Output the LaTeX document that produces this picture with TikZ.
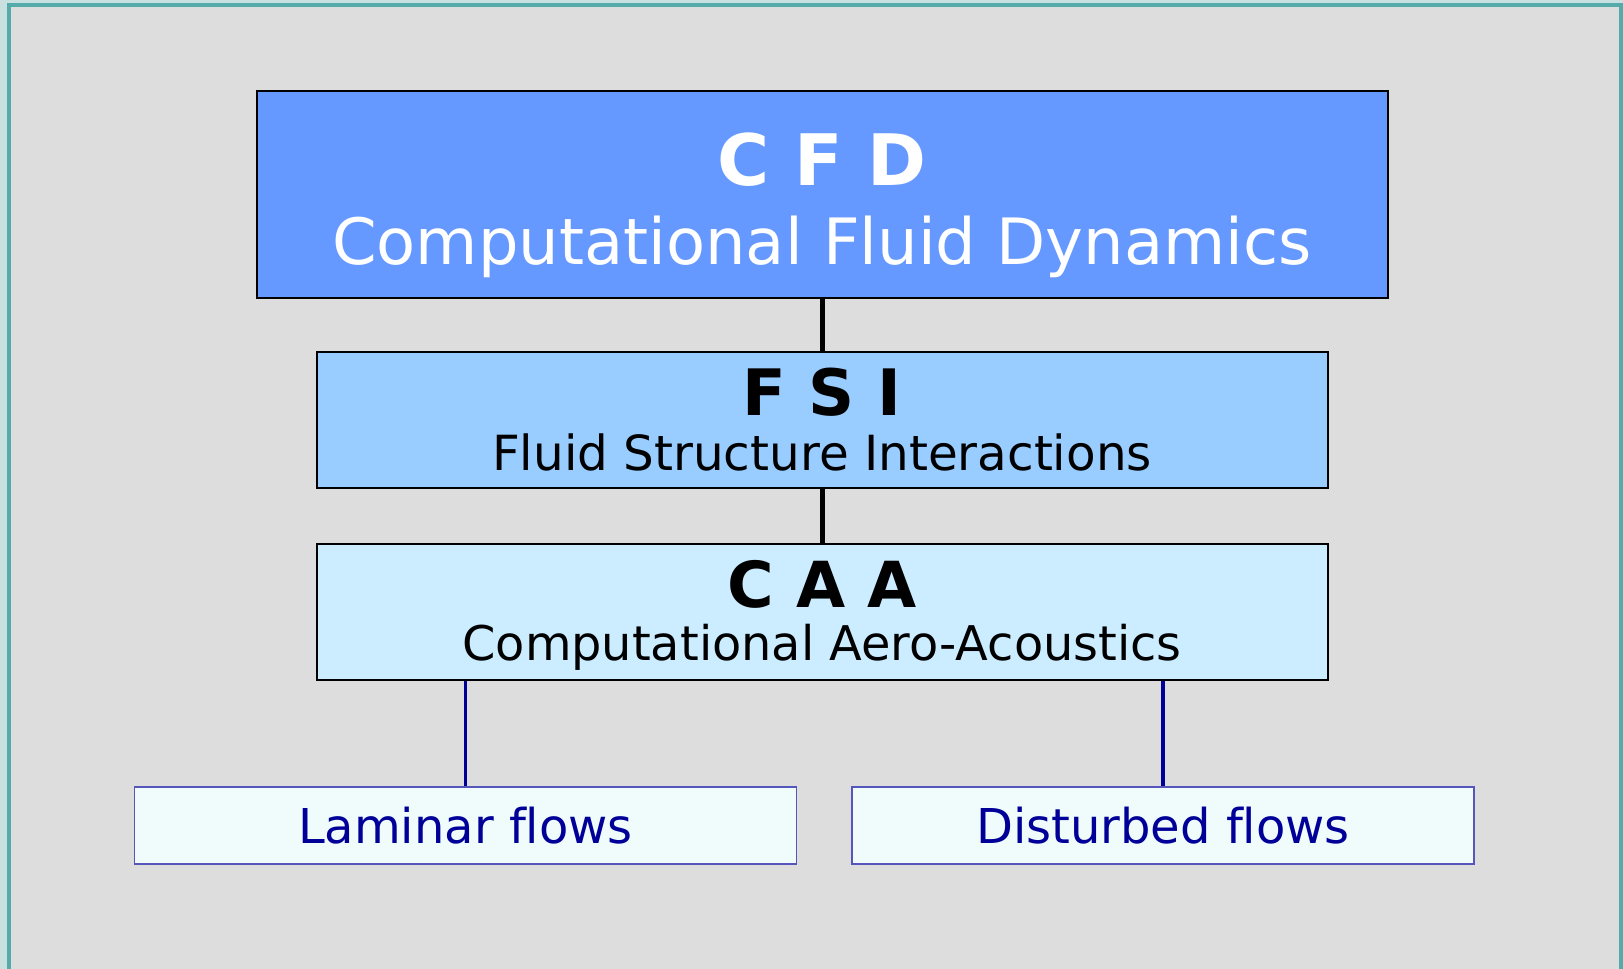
\documentclass[tikz,border=0pt]{standalone}
\usepackage{fontspec}
\setmainfont{DejaVu Sans}[Ligatures=NoCommon]

\definecolor{frameTeal}{HTML}{55AAAA}
\definecolor{frameOut}{HTML}{C8E0DF}
\definecolor{paperGray}{HTML}{DDDDDD}
\definecolor{cfdBlue}{HTML}{6699FF}
\definecolor{fsiBlue}{HTML}{99CCFF}
\definecolor{caaBlue}{HTML}{CCECFF}
\definecolor{flowFill}{HTML}{F0FCFC}
\definecolor{flowLine}{HTML}{5555BB}
\definecolor{flowNavy}{HTML}{000099}

\begin{document}
\begin{tikzpicture}
[x=1pt,y=-1pt,
  boxDecorate/.style={draw=black,line width=2pt,inner sep=0pt},%
  flowDecorate/.style={draw=flowLine,line width=1.3pt,fill=flowFill,inner sep=0pt,
    minimum height=77pt},%
  textDecorate/.style={inner sep=0pt,anchor=base},%
  lineDecorate/.style={-,line width=5pt,black},%
  flowLineDecorate/.style={-,line width=3.5pt,flowNavy}]
%% frame and paper
\useasboundingbox (0,0) rectangle (1623,969);
\fill[frameOut] (0,0) rectangle (1623,969);
\draw[frameTeal,line width=4pt,fill=paperGray] (8.5,4.5) rectangle (1621,972);
%% boxes
\node (cfd) at (822,194.5) [boxDecorate,fill=cfdBlue,minimum width=1131pt,minimum height=207pt] {};
\node (fsi) at (822,419.75) [boxDecorate,fill=fsiBlue,minimum width=1011pt,minimum height=135.5pt] {};
\node (caa) at (822,612) [boxDecorate,fill=caaBlue,minimum width=1011pt,minimum height=136pt] {};
\node (laminar) at (465.5,825.5) [flowDecorate,minimum width=662pt] {};
\node (disturbed) at (1163,825.5) [flowDecorate,minimum width=622pt] {};
%% texts
\node (cfdtitle) at (822,185) [textDecorate,text=white,font=\fontsize{71}{72}\selectfont\bfseries] {C F D};
\node (cfdname) at (822,264) [textDecorate,text=white,font=\fontsize{63.9}{66}\selectfont] {Computational Fluid Dynamics};
\node (fsititle) at (822,415) [textDecorate,font=\fontsize{64}{66}\selectfont\bfseries] {F S I};
\node (fsiname) at (822,470) [textDecorate,font=\fontsize{48.4}{50}\selectfont] {Fluid Structure Interactions};
\node (caatitle) at (822,607) [textDecorate,font=\fontsize{63.5}{65}\selectfont\bfseries] {C A A};
\node (caaname) at (822,660) [textDecorate,font=\fontsize{47.8}{49}\selectfont] {Computational Aero-Acoustics};
\node (laminarname) at (465.5,843) [textDecorate,text=flowNavy,font=\fontsize{48}{50}\selectfont] {Laminar flows};
\node (disturbedname) at (1163,843) [textDecorate,text=flowNavy,font=\fontsize{48}{50}\selectfont] {Disturbed flows};
%% connectors
\path
\foreach \startnode/\endnode in {cfd/fsi, fsi/caa}
{
  (\startnode.south) edge[lineDecorate] (\endnode.north)
};
\path
\foreach \endnode in {laminar, disturbed}
{
  (\endnode.north |- caa.south) edge[flowLineDecorate] (\endnode.north)
};
\end{tikzpicture}
\end{document}
